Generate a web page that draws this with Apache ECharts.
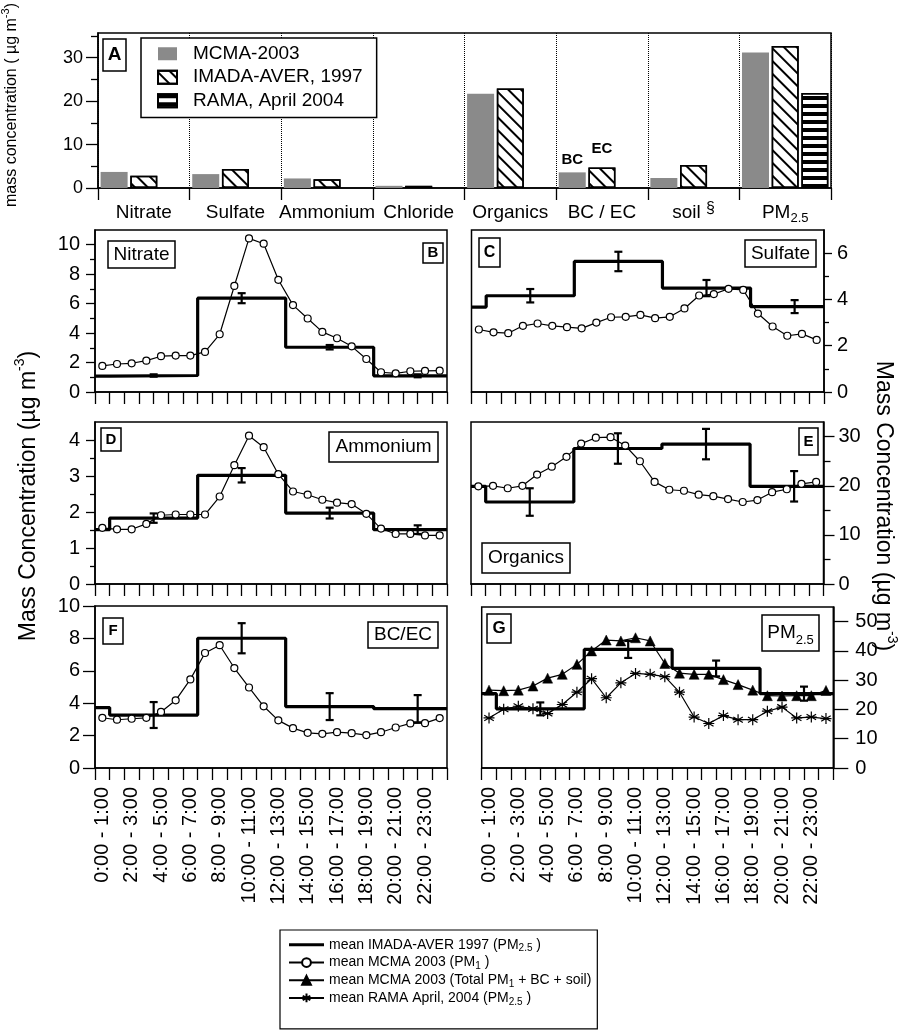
<!DOCTYPE html>
<html><head><meta charset="utf-8">
<script src="https://cdn.jsdelivr.net/npm/echarts@6/dist/echarts.min.js"></script>
<style>html,body{margin:0;padding:0;background:#fff}#chart{width:908px;height:1031px}</style>
</head><body><div id="chart"></div>
<script>
const FONT = 'Liberation Sans, Arial, Helvetica, sans-serif';

// ---------- Panel A: campaign means ----------
const speciesCategories = ['Nitrate', 'Sulfate', 'Ammonium', 'Chloride', 'Organics', 'BC / EC', 'soil §', 'PM2.5'];
const mcma2003Means   = [3.7, 3.2, 2.2, 0.5, 21.7, 3.6, 2.3, 31.2];
const imada1997Means  = [2.8, 4.4, 2.0, 0.5, 22.9, 4.7, 5.3, 32.7];
const rama2004Means   = [null, null, null, null, null, null, null, 21.9];
const panelAMajorTicks = [0, 10, 20, 30];
const panelAMinorTicks = [5, 15, 25, 35];

// ---------- Diurnal panels ----------
const hourLabels = ['0:00 - 1:00','1:00 - 2:00','2:00 - 3:00','3:00 - 4:00','4:00 - 5:00','5:00 - 6:00',
  '6:00 - 7:00','7:00 - 8:00','8:00 - 9:00','9:00 - 10:00','10:00 - 11:00','11:00 - 12:00',
  '12:00 - 13:00','13:00 - 14:00','14:00 - 15:00','15:00 - 16:00','16:00 - 17:00','17:00 - 18:00',
  '18:00 - 19:00','19:00 - 20:00','20:00 - 21:00','21:00 - 22:00','22:00 - 23:00','23:00 - 24:00'];
const imadaPeriodEdges = [0, 1, 7, 13, 19, 24];
const imadaPeriodCenters = [4, 10, 16, 22];

// MCMA 2003 hourly means (PM1)
const nitrateMCMA  = [1.77,1.90,1.95,2.13,2.43,2.47,2.47,2.72,3.92,7.20,10.43,10.07,7.62,5.90,4.99,4.08,3.65,3.10,2.24,1.34,1.27,1.41,1.43,1.45];
const sulfateMCMA  = [2.70,2.58,2.54,2.86,2.96,2.86,2.80,2.75,3.00,3.23,3.25,3.33,3.19,3.25,3.61,4.17,4.23,4.46,4.41,3.39,2.83,2.43,2.51,2.25];
const ammoniumMCMA = [1.56,1.52,1.52,1.67,1.91,1.93,1.93,1.93,2.43,3.30,4.12,3.80,3.05,2.57,2.48,2.34,2.26,2.22,1.95,1.54,1.39,1.39,1.35,1.35];
const organicsMCMA = [19.9,20.0,19.5,20.0,22.3,23.9,25.9,28.6,29.8,29.9,28.2,25.0,20.8,19.2,19.0,18.2,17.9,17.3,16.7,17.1,18.7,19.3,20.4,20.8];
const bcMCMA       = [3.10,2.98,3.04,3.10,3.46,4.18,5.47,7.10,7.58,6.17,4.97,3.81,2.94,2.46,2.17,2.11,2.21,2.15,2.03,2.21,2.50,2.75,2.77,3.08];
const pmTotalMCMA  = [26.6,26.4,26.6,28.0,30.7,32.0,35.4,40.0,43.7,43.4,44.5,43.4,35.7,32.4,32.0,32.0,30.2,28.5,26.6,24.7,24.6,24.7,24.7,26.5];
const pmRAMA       = [17.1,20.1,21.1,20.2,18.6,21.7,25.9,30.5,24.0,29.1,32.3,32.0,31.2,25.9,17.4,15.2,17.9,16.5,16.5,19.4,20.8,17.1,17.4,16.9];

// IMADA-AVER 1997 period means: segments [0-1, 1-7, 7-13, 13-19, 19-24]; errors for [1-7, 7-13, 13-19, 19-24]
const nitrateIMADA  = [1.08, 1.12, 6.37, 3.04, 1.10];  const nitrateIMADAErr  = [0.08, 0.34, 0.15, 0.10];
const sulfateIMADA  = [3.67, 4.16, 5.64, 4.49, 3.69];  const sulfateIMADAErr  = [0.29, 0.42, 0.35, 0.28];
const ammoniumIMADA = [1.51, 1.83, 3.02, 1.97, 1.51];  const ammoniumIMADAErr = [0.13, 0.20, 0.15, 0.12];
const organicsIMADA = [19.9, 16.7, 27.6, 28.5, 19.9];  const organicsIMADAErr = [2.8, 3.1, 3.1, 3.1];
const bcIMADA       = [3.73, 3.27, 8.01, 3.79, 3.66];  const bcIMADAErr       = [0.80, 0.93, 0.83, 0.84];
const pmIMADA       = [25.4, 20.2, 40.5, 34.0, 25.4];  const pmIMADAErr       = [2.2, 2.9, 2.7, 2.4];

// tick values
const nitrateTicks = [0,2,4,6,8,10];   const nitrateMinor = [1,3,5,7,9];
const sulfateTicks = [0,2,4,6];        const sulfateMinor = [1,3,5];
const ammoniumTicks = [0,1,2,3,4];     const ammoniumMinor = [0.5,1.5,2.5,3.5];
const organicsTicks = [0,10,20,30];    const organicsMinor = [5,15,25];
const bcTicks = [0,2,4,6,8,10];        const bcMinor = [];
const pmTicks = [0,10,20,30,40,50];    const pmMinor = [];

const IMADA_NAME = 'mean IMADA-AVER 1997 (PM2.5 )';
const MCMA_NAME  = 'mean MCMA 2003 (PM1 )';
const TOTAL_NAME = 'mean MCMA 2003 (Total PM1 + BC + soil)';
const RAMA_NAME  = 'mean RAMA April, 2004 (PM2.5 )';

const STAR = 'path://M5,0L5,10M0.67,2.5L9.33,7.5M0.67,7.5L9.33,2.5M0,5L10,5';

const panels = [
  {grid:{left:95, top:230, width:352, height:162}, side:'left', yMax:11, major:nitrateTicks, minor:nitrateMinor, tickLen:9, minorLen:5, margin:15, hours:false,
   lines:[{name:MCMA_NAME, data:nitrateMCMA, mark:'circle'}], imada:nitrateIMADA, err:nitrateIMADAErr},
  {grid:{left:471.5, top:230, width:352.5, height:162}, side:'right', yMax:7, major:sulfateTicks, minor:sulfateMinor, tickLen:8, minorLen:5, margin:13, hours:false,
   lines:[{name:MCMA_NAME, data:sulfateMCMA, mark:'circle'}], imada:sulfateIMADA, err:sulfateIMADAErr},
  {grid:{left:95, top:422, width:352, height:162}, side:'left', yMax:4.5, major:ammoniumTicks, minor:ammoniumMinor, tickLen:9, minorLen:5, margin:15, hours:false,
   lines:[{name:MCMA_NAME, data:ammoniumMCMA, mark:'circle'}], imada:ammoniumIMADA, err:ammoniumIMADAErr},
  {grid:{left:471, top:422, width:352.5, height:162}, side:'right', yMax:33, major:organicsTicks, minor:organicsMinor, tickLen:11, minorLen:7, margin:15, hours:false,
   lines:[{name:MCMA_NAME, data:organicsMCMA, mark:'circle'}], imada:organicsIMADA, err:organicsIMADAErr},
  {grid:{left:95, top:606, width:352, height:162}, side:'left', yMax:10, major:bcTicks, minor:bcMinor, tickLen:12, minorLen:5, margin:15, hours:true,
   lines:[{name:MCMA_NAME, data:bcMCMA, mark:'circle'}], imada:bcIMADA, err:bcIMADAErr},
  {grid:{left:481.7, top:607, width:351.6, height:161}, side:'right', yMax:55, major:pmTicks, minor:pmMinor, tickLen:15, minorLen:5, margin:22, hours:true,
   lines:[{name:TOTAL_NAME, data:pmTotalMCMA, mark:'triangle'}, {name:RAMA_NAME, data:pmRAMA, mark:'star'}], imada:pmIMADA, err:pmIMADAErr}
];

const grids = [], xAxes = [], yAxes = [], series = [];
const black = '#000';

// Panel A layout
grids.push({left:98, top:33, width:733, height:155, show:true, borderColor:black, borderWidth:1.5});
xAxes.push({type:'category', gridIndex:0, position:'bottom', data:speciesCategories, boundaryGap:true,
  axisLine:{show:true, lineStyle:{color:black, width:1.5}},
  axisTick:{show:true, interval:0, length:12, lineStyle:{color:black, width:1.3}},
  splitLine:{show:true, interval:0, lineStyle:{color:black, type:'dotted', width:1}},
  axisLabel:{interval:0, fontSize:19, color:black, fontFamily:FONT, margin:13, lineHeight:24,
    formatter:function(v){ if (v === 'PM2.5') return 'PM{sub|2.5}'; if (v === 'soil §') return 'soil {sup|§}'; return v; },
    rich:{sub:{fontSize:13, lineHeight:13, verticalAlign:'bottom', fontFamily:FONT, color:black},
          sup:{fontSize:16, lineHeight:16, verticalAlign:'top', fontFamily:FONT, color:black}}}});
function pushY(g, yMax, side, major, minor, tickLen, minorLen, margin, fontSize){
  yAxes.push({type:'value', gridIndex:g, min:0, max:yMax, position:side, splitLine:{show:false},
    axisLine:{show:true, onZero:false, lineStyle:{color:black, width:1.5}},
    axisTick:{show:true, length:tickLen, customValues:major, lineStyle:{color:black, width:1.3}},
    axisLabel:{show:true, customValues:major, fontSize:fontSize, margin:margin, color:black, fontFamily:FONT}});
  yAxes.push({type:'value', gridIndex:g, min:0, max:yMax, position:side, splitLine:{show:false},
    axisLine:{show:false, onZero:false},
    axisTick:{show:minor.length > 0, length:minorLen, customValues:minor.length ? minor : [0], lineStyle:{color:black, width:1.3}},
    axisLabel:{show:false}});
}
pushY(0, 35.7, 'left', panelAMajorTicks, panelAMinorTicks, 12, 7, 15, 18);

const barLabel = function(txt){ return {show:true, position:'top', distance:5, formatter:txt, fontSize:15, fontWeight:'bold', color:black, fontFamily:FONT}; };
series.push({type:'bar', name:'MCMA-2003', xAxisIndex:0, yAxisIndex:0, barWidth:27, barGap:'10%',
  data: mcma2003Means.map((v,i)=> speciesCategories[i]==='BC / EC' ? {value:v, label:barLabel('BC')} : v),
  itemStyle:{color:'#8a8a8a'}});
series.push({type:'bar', name:'IMADA-AVER, 1997', xAxisIndex:0, yAxisIndex:0, barWidth:27, barGap:'10%',
  data: imada1997Means.map((v,i)=> speciesCategories[i]==='BC / EC' ? {value:v, label:Object.assign(barLabel('EC'), {distance:11})} : v),
  itemStyle:{color:'#fff', borderColor:black, borderWidth:1.5,
    decal:{symbol:'rect', symbolSize:1, color:black, dashArrayX:[1,0], dashArrayY:[1.6,6.4], rotation:Math.PI/4}}});
series.push({type:'bar', name:'RAMA, April 2004', xAxisIndex:0, yAxisIndex:0, barWidth:27, barGap:'10%',
  data: rama2004Means,
  itemStyle:{color:'#fff', borderColor:black, borderWidth:1.5,
    decal:{symbol:'rect', symbolSize:1, color:black, dashArrayX:[1,0], dashArrayY:[4,3.2], rotation:0}}});

// Diurnal panels
panels.forEach(function(p, k){
  const g = k + 1;
  grids.push(Object.assign({show:true, borderColor:black, borderWidth:1.5}, p.grid));
  const catIdx = xAxes.length;
  xAxes.push({type:'category', gridIndex:g, position:'bottom', data:hourLabels, boundaryGap:true,
    axisLine:{show:true, onZero:false, lineStyle:{color:black, width:1.5}},
    axisTick:{show:true, interval:0, length:12, lineStyle:{color:black, width:1.3}},
    splitLine:{show:false},
    axisLabel:{show:p.hours, interval:1, rotate:90, fontSize:20, color:black, fontFamily:FONT, margin:19}});
  const valIdx = xAxes.length;
  xAxes.push({type:'value', gridIndex:g, position:'bottom', min:0, max:24, show:false});
  const yIdx = yAxes.length;
  pushY(g, p.yMax, p.side, p.major, p.minor, p.tickLen, p.minorLen, p.margin, 20);

  // IMADA step line built from period edges
  const stepData = imadaPeriodEdges.map((e, i) => [e, p.imada[Math.min(i, p.imada.length - 1)]]);
  series.push({type:'line', name:IMADA_NAME, xAxisIndex:valIdx, yAxisIndex:yIdx, data:stepData, step:'end',
    symbol:'none', lineStyle:{color:black, width:3.2}, itemStyle:{color:black}, z:3});
  // error bars
  series.push({type:'custom', name:'imadaErr' + g, xAxisIndex:valIdx, yAxisIndex:yIdx, z:6, clip:false,
    data: imadaPeriodCenters.map((c, i) => [c, p.imada[i+1] - p.err[i], p.imada[i+1] + p.err[i]]),
    encode:{x:0, y:[1,2]},
    renderItem:function(params, api){
      const x = api.value(0), lo = api.coord([x, api.value(1)]), hi = api.coord([x, api.value(2)]);
      const hw = 4, st = {stroke:black, lineWidth:2.2};
      return {type:'group', children:[
        {type:'line', shape:{x1:lo[0], y1:lo[1], x2:hi[0], y2:hi[1]}, style:st},
        {type:'line', shape:{x1:lo[0]-hw, y1:lo[1], x2:lo[0]+hw, y2:lo[1]}, style:st},
        {type:'line', shape:{x1:hi[0]-hw, y1:hi[1], x2:hi[0]+hw, y2:hi[1]}, style:st}]};
    }});
  p.lines.forEach(function(L){
    let sym, size, ist;
    if (L.mark === 'circle') { sym = 'circle'; size = 7; ist = {color:'#fff', borderColor:black, borderWidth:1.2}; }
    else if (L.mark === 'triangle') { sym = 'triangle'; size = 10; ist = {color:black, borderColor:black, borderWidth:0.5}; }
    else { sym = STAR; size = 11; ist = {color:'rgba(0,0,0,0)', borderColor:black, borderWidth:1.2}; }
    series.push({type:'line', name:L.name, xAxisIndex:catIdx, yAxisIndex:yIdx, data:L.data,
      symbol:sym, symbolSize:size, symbolKeepAspect:true, showAllSymbol:true,
      lineStyle:{color:black, width:1.2}, itemStyle:ist, z:4});
  });
});

function labelBox(x, y, w, h, text, fontSize, bold, extra){
  return {type:'group', z:50, children:[
    {type:'rect', z:50, shape:{x:x, y:y, width:w, height:h}, style:{fill:'#fff', stroke:black, lineWidth:1.5}},
    {type:'text', z:51, x:x + w/2, y:y + h/2, style:Object.assign({text:text, fontSize:fontSize, fontWeight:bold ? 'bold' : 'normal',
      fontFamily:FONT, fill:black, align:'center', verticalAlign:'middle'}, extra || {})}]};
}
const supRich = {sup:{fontSize:14, lineHeight:14, verticalAlign:'top', fontFamily:FONT, fill:black}};
const graphics = [
  labelBox(103, 39, 23, 32, 'A', 19, true),
  labelBox(423, 243, 20, 20, 'B', 15, true),
  labelBox(479, 238, 21, 29, 'C', 16, true),
  labelBox(101, 428, 20, 23, 'D', 15, true),
  labelBox(799, 428, 19, 27, 'E', 15, true),
  labelBox(103, 618, 20, 26, 'F', 15, true),
  labelBox(487, 614, 24, 29, 'G', 17, true),
  labelBox(108, 241, 67, 27, 'Nitrate', 19, false),
  labelBox(745, 240, 71, 27, 'Sulfate', 19, false),
  labelBox(329, 432, 109, 30, 'Ammonium', 19, false),
  labelBox(482, 543, 88, 30, 'Organics', 19, false),
  labelBox(368, 622, 70, 26, 'BC/EC', 19, false),
  labelBox(762, 615, 57, 36, 'PM{sub|2.5}', 19, false, {lineHeight:28, rich:{sub:{fontSize:13, lineHeight:13, verticalAlign:'bottom', fontFamily:FONT, fill:black}}}),
  {type:'text', x:12, y:105, rotation:Math.PI/2, z:40, style:{text:'mass concentration ( µg m{sup|-3})', fontSize:16, fontFamily:FONT, fill:black,
    align:'center', verticalAlign:'middle', lineHeight:24, rich:{sup:{fontSize:11, lineHeight:11, verticalAlign:'top', fontFamily:FONT, fill:black}}}},
  {type:'text', x:29, y:496, rotation:Math.PI/2, z:40, style:{text:'Mass Concentration (µg m{sup|-3})', fontSize:23, fontFamily:FONT, fill:black,
    align:'center', verticalAlign:'middle', lineHeight:32, rich:supRich}},
  {type:'text', x:883, y:506, rotation:-Math.PI/2, z:40, style:{text:'Mass Concentration (µg m{sup|-3})', fontSize:23, fontFamily:FONT, fill:black,
    align:'center', verticalAlign:'middle', lineHeight:32, rich:supRich}}
];

const option = {
  animation:false,
  backgroundColor:'#fff',
  textStyle:{fontFamily:FONT, color:black},
  grid:grids, xAxis:xAxes, yAxis:yAxes, series:series,
  legend:[
    {data:['MCMA-2003', 'IMADA-AVER, 1997', 'RAMA, April 2004'], orient:'vertical', left:141, top:38,
     padding:[4, 14, 5, 16], itemWidth:19, itemHeight:13, itemGap:0, icon:'rect',
     borderColor:black, borderWidth:1.5, backgroundColor:'#fff', selectedMode:false,
     textStyle:{fontSize:19, lineHeight:23.5, color:black, fontFamily:FONT, padding:[0,0,0,11]}},
    {data:[{name:IMADA_NAME, icon:'path://M0,0L35,0L35,3L0,3Z'}, MCMA_NAME, TOTAL_NAME, RAMA_NAME], orient:'vertical', left:280, top:930,
     padding:[6, 6, 22, 8], itemWidth:35, itemHeight:11, itemGap:0, symbolKeepAspect:true,
     borderColor:black, borderWidth:1.2, backgroundColor:'#fff', selectedMode:false,
     formatter:function(n){ return n.replace('PM2.5', 'PM{sub|2.5}').replace('PM1', 'PM{sub|1}'); },
     textStyle:{fontSize:14, lineHeight:17.7, color:black, fontFamily:FONT,
       rich:{sub:{fontSize:10, lineHeight:10, verticalAlign:'bottom', fontFamily:FONT, color:black}}}}
  ],
  graphic:graphics
};
const chart = echarts.init(document.getElementById('chart'), null, {renderer:'canvas'});
chart.setOption(option);
</script></body></html>
